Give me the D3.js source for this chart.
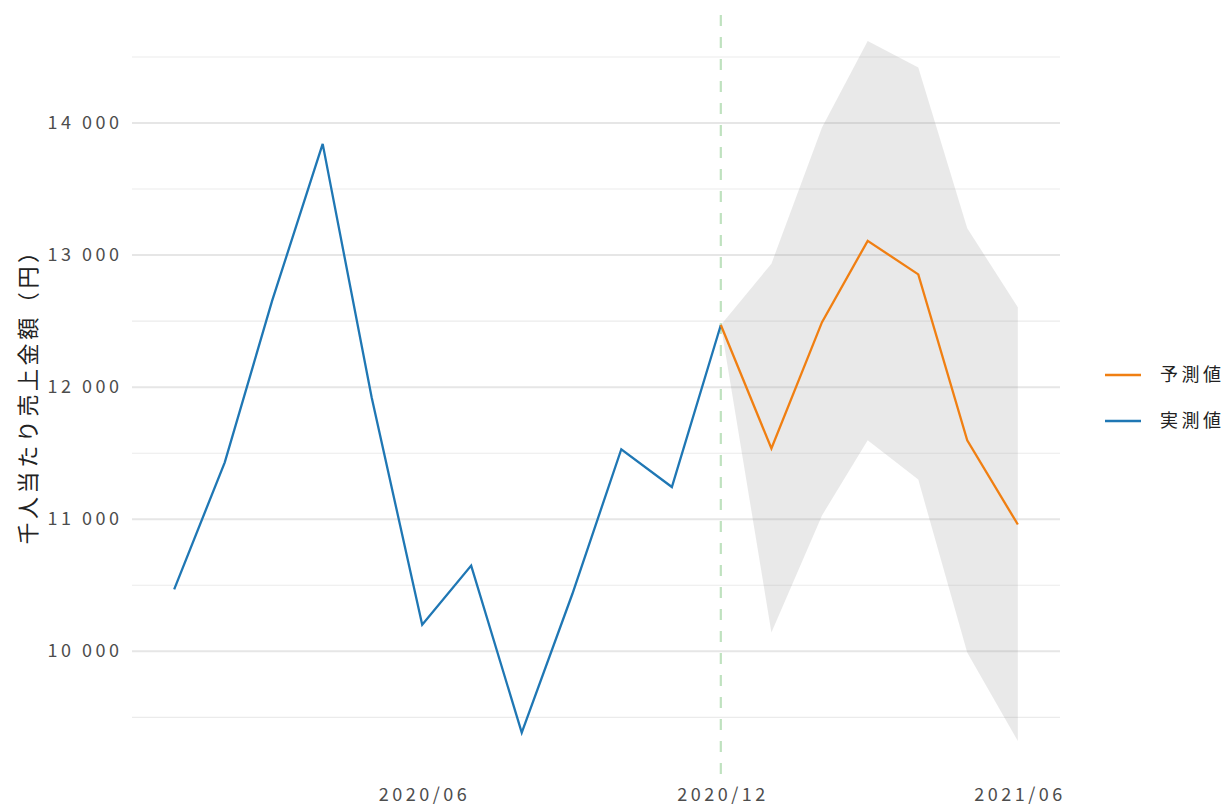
<!DOCTYPE html>
<html>
<head>
<meta charset="utf-8">
<script src="https://cdn.jsdelivr.net/npm/d3@7"></script>
<style>
  body { margin: 0; background: #fff; }
  text { font-family: "Noto Sans CJK JP", "Noto Sans", sans-serif; }
</style>
</head>
<body>
<svg id="chart" width="1224" height="805"></svg>
<script>
// ---- data ----
var actualMonths = ["2020-01", "2020-02", "2020-03", "2020-04", "2020-05", "2020-06",
                    "2020-07", "2020-08", "2020-09", "2020-10", "2020-11", "2020-12"];
var actualValues = [10465, 11427, 12649, 13838, 11920, 10197,
                    10645, 9380, 10430, 11526, 11240, 12467];

var forecastMonths = ["2020-12", "2021-01", "2021-02", "2021-03", "2021-04", "2021-05", "2021-06"];
var forecastValues = [12467, 11532, 12488, 13104, 12850, 11594, 10956];
var forecastUpper  = [12467, 12931, 13962, 14617, 14417, 13199, 12601];
var forecastLower  = [12467, 10139, 11025, 11594, 11296, 9987, 9317];

var xTickLabels = ["2020-06", "2020-12", "2021-06"];
var yMajorTicks = [10000, 11000, 12000, 13000, 14000];
var yMinorTicks = [9500, 10500, 11500, 12500, 13500, 14500];
var splitMonth = "2020-12";

var seriesNames = ["予測値", "実測値"];
var seriesColors = ["#f07f12", "#1f77b4"];
var yTitle = "千人当たり売上金額（円）";

// ---- layout ----
var panel = { left: 132, right: 1060, top: 6, bottom: 776 };
var tickSpacing = 3.5;
var parseMonth = d3.timeParse("%Y-%m");
var svg = d3.select("#chart");

var allDates = actualMonths.concat(forecastMonths).map(parseMonth);
var allVals = actualValues.concat(forecastUpper, forecastLower);

var xExt = d3.extent(allDates);
var xPad = (xExt[1] - xExt[0]) * 0.05;
var x = d3.scaleTime()
  .domain([new Date(+xExt[0] - xPad), new Date(+xExt[1] + xPad)])
  .range([panel.left, panel.right]);

var yExt = d3.extent(allVals);
var yPad = (yExt[1] - yExt[0]) * 0.05;
var y = d3.scaleLinear()
  .domain([yExt[0] - yPad, yExt[1] + yPad])
  .range([panel.bottom, panel.top]);

var fmt = d3.formatLocale({ decimal: ".", thousands: " ", grouping: [3], currency: ["", ""] }).format(",d");

// minor grid
svg.append("g")
  .attr("transform", "translate(" + panel.left + ",0)")
  .call(d3.axisLeft(y).tickValues(yMinorTicks).tickSize(-(panel.right - panel.left)).tickFormat(""))
  .call(function(g) {
    g.select(".domain").remove();
    g.selectAll("line").attr("stroke", "#ebebeb").attr("stroke-width", 1.1);
  });

// major grid + labels
svg.append("g")
  .attr("transform", "translate(" + panel.left + ",0)")
  .call(d3.axisLeft(y).tickValues(yMajorTicks).tickSize(-(panel.right - panel.left)).tickPadding(13 - tickSpacing).tickFormat(fmt))
  .call(function(g) {
    g.select(".domain").remove();
    g.selectAll("line").attr("stroke", "#e6e6e6").attr("stroke-width", 2);
    g.selectAll("text")
      .attr("fill", "#4d4d4d")
      .style("font-size", "18px")
      .style("letter-spacing", tickSpacing + "px");
  });

// forecast interval band
var bandData = forecastMonths.map(function(m, i) {
  return { date: parseMonth(m), lo: forecastLower[i], hi: forecastUpper[i] };
});
svg.append("path")
  .datum(bandData)
  .attr("fill", "#999999")
  .attr("fill-opacity", 0.22)
  .attr("d", d3.area()
    .x(function(d) { return x(d.date); })
    .y0(function(d) { return y(d.lo); })
    .y1(function(d) { return y(d.hi); }));

// split line
svg.append("line")
  .attr("x1", x(parseMonth(splitMonth)))
  .attr("x2", x(parseMonth(splitMonth)))
  .attr("y1", panel.top)
  .attr("y2", panel.bottom)
  .attr("stroke", "#2ca02c")
  .attr("stroke-opacity", 0.3)
  .attr("stroke-width", 2.2)
  .attr("stroke-dasharray", "11,11")
  .attr("stroke-dashoffset", -9);

// lines
var line = d3.line()
  .x(function(d) { return x(d.date); })
  .y(function(d) { return y(d.v); });

var actualData = actualMonths.map(function(m, i) { return { date: parseMonth(m), v: actualValues[i] }; });
var forecastData = forecastMonths.map(function(m, i) { return { date: parseMonth(m), v: forecastValues[i] }; });

svg.append("path")
  .datum(actualData)
  .attr("fill", "none")
  .attr("stroke", seriesColors[1])
  .attr("stroke-width", 2.3)
  .attr("d", line);

svg.append("path")
  .datum(forecastData)
  .attr("fill", "none")
  .attr("stroke", seriesColors[0])
  .attr("stroke-width", 2.3)
  .attr("d", line);

// x axis labels
svg.append("g")
  .attr("transform", "translate(0," + panel.bottom + ")")
  .call(d3.axisBottom(x).tickValues(xTickLabels.map(parseMonth)).tickSize(0).tickPadding(12).tickFormat(d3.timeFormat("%Y/%m")))
  .call(function(g) {
    g.select(".domain").remove();
    g.selectAll("text")
      .attr("fill", "#4d4d4d")
      .attr("dx", tickSpacing / 2)
      .style("font-size", "18px")
      .style("letter-spacing", tickSpacing + "px");
  });

// y title
svg.append("text")
  .attr("transform", "translate(28," + ((panel.top + panel.bottom) / 2) + ") rotate(-90)")
  .attr("text-anchor", "middle")
  .attr("dy", "0.35em")
  .attr("fill", "#222")
  .style("font-size", "22px")
  .style("letter-spacing", "3.6px")
  .text(yTitle);

// legend
var legend = svg.append("g").attr("transform", "translate(1105,375)");
seriesNames.forEach(function(name, i) {
  var row = legend.append("g").attr("transform", "translate(0," + (i * 46) + ")");
  row.append("line")
    .attr("x1", 0).attr("x2", 36)
    .attr("stroke", seriesColors[i])
    .attr("stroke-width", 2.3);
  row.append("text")
    .attr("x", 55)
    .attr("dy", "0.35em")
    .attr("fill", "#222")
    .style("font-size", "18px")
    .style("letter-spacing", "3.5px")
    .text(name);
});
</script>
</body>
</html>
